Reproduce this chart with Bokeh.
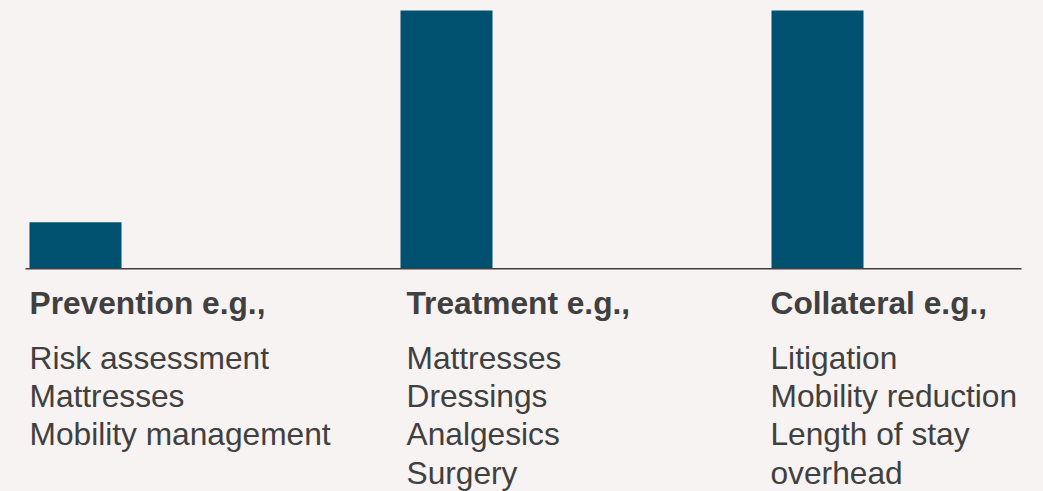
from bokeh.plotting import figure
from bokeh.models import ColumnDataSource, Range1d, GlobalInlineStyleSheet
from bokeh.core.properties import value
from bokeh.embed import file_html
from bokeh.resources import INLINE

# ---- data ----
categories = ["Prevention", "Treatment", "Collateral"]
values = [18, 100, 100]
headers = ["Prevention e.g.,", "Treatment e.g.,", "Collateral e.g.,"]
items = [
    ["Risk assessment", "Mattresses", "Mobility management"],
    ["Mattresses", "Dressings", "Analgesics", "Surgery"],
    ["Litigation", "Mobility reduction", "Length of stay", "overhead"],
]

# ---- style ----
BG = "#f7f3f2"
BAR = "#00506f"
TXT = "#404040"
FONT = "Liberation Sans"
FS = "31.7px"
W, H = 1043, 491
BAR_W = 0.248
PX = 371.0  # pixels per category unit
X0 = 75.0   # pixel position of first category
K = 2.583   # pixels per value unit
ZERO = 268.3  # pixel row of value 0 from top

xs = list(range(len(categories)))

p = figure(width=W, height=H, output_backend="svg", toolbar_location=None,
           x_range=Range1d(-X0 / PX, (W - X0) / PX),
           y_range=Range1d(-(H - ZERO) / K, ZERO / K))
p.min_border = 0
p.min_border_left = p.min_border_right = p.min_border_top = p.min_border_bottom = 0
p.axis.visible = False
p.grid.visible = False
p.outline_line_color = None
p.background_fill_color = BG
p.border_fill_color = BG
p.stylesheets = [GlobalInlineStyleSheet(css=f"html, body {{ background-color: {BG}; }}")]

p.vbar(x=xs, top=values, bottom=0, width=BAR_W, fill_color=BAR, line_color=None)

# baseline
p.segment(x0=[-(X0 - 25) / PX], y0=[0], x1=[(1021 - X0) / PX], y1=[0],
          line_color=TXT, line_width=1.6)

col_off = [0, 6, -1]

# headers
hsrc = ColumnDataSource(dict(
    x=[x - BAR_W / 2 for x in xs], y=[0] * len(xs), text=headers,
    xo=col_off, yo=[34] * len(xs)))
p.text(x="x", y="y", text="text", x_offset="xo", y_offset="yo", source=hsrc,
       text_font=value(FONT), text_font_size=value(FS), text_font_style="bold",
       text_color=TXT, text_align="left", text_baseline="alphabetic")

# item lines
ix, iy, it, ixo, iyo = [], [], [], [], []
for ci, lst in enumerate(items):
    for li, s in enumerate(lst):
        ix.append(xs[ci] - BAR_W / 2)
        iy.append(0)
        it.append(s)
        ixo.append(col_off[ci])
        iyo.append(89 + li * 38.3)
isrc = ColumnDataSource(dict(x=ix, y=iy, text=it, xo=ixo, yo=iyo))
p.text(x="x", y="y", text="text", x_offset="xo", y_offset="yo", source=isrc,
       text_font=value(FONT), text_font_size=value(FS),
       text_color=TXT, text_align="left", text_baseline="alphabetic")

open("out.html", "w").write(file_html(p, INLINE))
